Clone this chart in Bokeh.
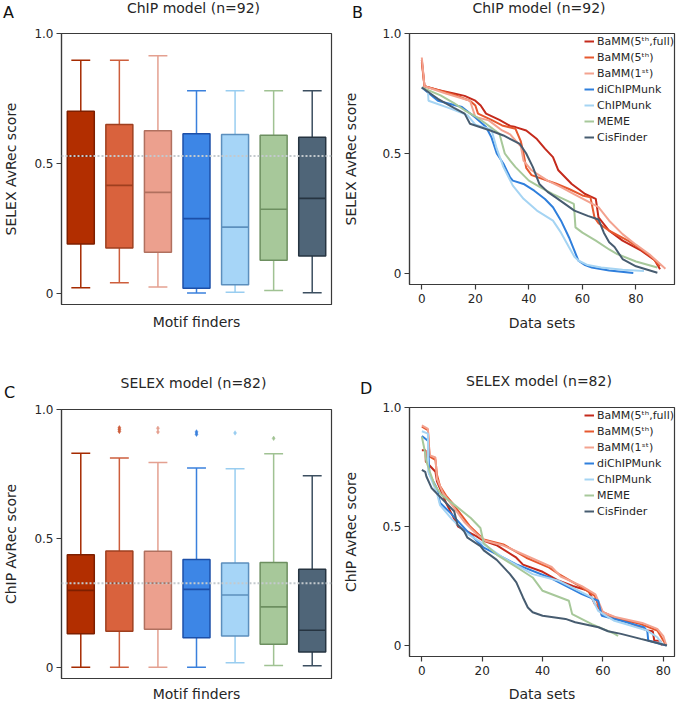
from bokeh.plotting import figure
from bokeh.models import (Range1d, FactorRange, FixedTicker, Span, Div, LinearAxis,
                          Legend, LegendItem, ColumnDataSource)
from bokeh.layouts import column, row
from bokeh.transform import dodge
from bokeh.embed import file_html
from bokeh.resources import INLINE

FONT = "DejaVu Sans"
TXT = "#262626"
FRAME = "#3a3a3a"

# ---------------- data ----------------
methods = ["BaMM(5th,full)", "BaMM(5th)", "BaMM(1st)", "diChIPMunk",
           "ChIPMunk", "MEME", "CisFinder"]
legend_labels = ["BaMM(5\u1d57\u02b0,full)", "BaMM(5\u1d57\u02b0)", "BaMM(1\u02e2\u1d57)",
                 "diChIPMunk", "ChIPMunk", "MEME", "CisFinder"]

# Panel A: ChIP model (n=92), SELEX AvRec score
a_lo = [0.021, 0.040, 0.023, 0.000, 0.003, 0.010, 0.001]
a_q1 = [0.189, 0.174, 0.157, 0.019, 0.032, 0.126, 0.143]
a_med = [0.528, 0.415, 0.388, 0.287, 0.254, 0.323, 0.365]
a_q3 = [0.700, 0.649, 0.625, 0.614, 0.611, 0.608, 0.600]
a_hi = [0.897, 0.897, 0.914, 0.779, 0.779, 0.779, 0.779]
a_ref = 0.528

# Panel C: SELEX model (n=82), ChIP AvRec score
c_lo = [0.000, 0.000, 0.000, 0.000, 0.017, 0.006, 0.005]
c_q1 = [0.130, 0.139, 0.147, 0.114, 0.121, 0.089, 0.059]
c_med = [0.298, 0.326, 0.326, 0.302, 0.280, 0.234, 0.143]
c_q3 = [0.436, 0.451, 0.450, 0.418, 0.404, 0.406, 0.380]
c_hi = [0.830, 0.812, 0.794, 0.773, 0.770, 0.828, 0.743]
c_ref = 0.326
c_out_method = ["BaMM(5th)", "BaMM(5th)", "BaMM(5th)", "BaMM(1st)", "BaMM(1st)",
                "diChIPMunk", "diChIPMunk", "ChIPMunk", "MEME"]
c_out_value = [0.929, 0.922, 0.915, 0.927, 0.913, 0.913, 0.904, 0.909, 0.888]

# Panel B: ChIP model (n=92), sorted scores per data set
b_x = {
    "BaMM(5th,full)": [0, 1, 6, 12, 16, 20, 22, 24, 29, 33, 35, 39, 43, 46, 49, 51, 56, 61, 65, 66, 70, 75, 82, 87, 89],
    "BaMM(5th)": [0, 1, 6, 12, 18, 20, 21, 26, 30, 35, 37, 38, 39, 41, 45, 50, 55, 60, 63, 64.5, 66, 70, 77, 82, 86, 89],
    "BaMM(1st)": [0, 1, 9, 18, 20, 25, 30, 33, 35, 37, 38, 41, 47, 52, 57, 62, 66, 70, 75, 80, 85, 88, 91],
    "diChIPMunk": [0, 6, 15, 20, 24, 26, 28, 30.5, 33, 34, 38, 42, 46, 49, 52, 55, 57, 58.5, 61, 63.5, 70, 79],
    "ChIPMunk": [0, 2.3, 2.5, 10, 17, 20, 26, 28, 30.5, 34, 38, 43, 49, 52, 55, 57, 58.6, 62, 67, 75, 83],
    "MEME": [0, 7, 12, 16, 20, 24, 29, 31, 33, 35, 40, 45, 49, 53, 56.8, 57.4, 60, 65, 70, 73, 80, 88],
    "CisFinder": [0, 6, 12, 16, 18, 25.6, 30.5, 36.6, 39, 41.5, 43.9, 47, 50, 57, 62, 66, 68, 70, 72, 75, 80, 88],
}
b_y = {
    "BaMM(5th,full)": [0.89, 0.78, 0.765, 0.75, 0.74, 0.72, 0.70, 0.666, 0.64, 0.615, 0.61, 0.596, 0.56, 0.52, 0.485, 0.43, 0.373, 0.331, 0.311, 0.234, 0.178, 0.137, 0.095, 0.055, 0.018],
    "BaMM(5th)": [0.88, 0.78, 0.765, 0.745, 0.72, 0.70, 0.666, 0.64, 0.617, 0.603, 0.55, 0.50, 0.44, 0.41, 0.394, 0.375, 0.352, 0.325, 0.317, 0.234, 0.21, 0.178, 0.137, 0.10, 0.067, 0.03],
    "BaMM(1st)": [0.90, 0.78, 0.75, 0.72, 0.652, 0.638, 0.596, 0.58, 0.554, 0.53, 0.47, 0.43, 0.387, 0.36, 0.33, 0.30, 0.276, 0.22, 0.164, 0.12, 0.08, 0.05, 0.02],
    "diChIPMunk": [0.775, 0.72, 0.694, 0.65, 0.61, 0.568, 0.50, 0.457, 0.40, 0.387, 0.373, 0.345, 0.31, 0.276, 0.22, 0.15, 0.095, 0.053, 0.035, 0.025, 0.012, 0.002],
    "ChIPMunk": [0.775, 0.76, 0.72, 0.69, 0.66, 0.62, 0.60, 0.52, 0.443, 0.366, 0.311, 0.262, 0.22, 0.17, 0.109, 0.07, 0.053, 0.035, 0.025, 0.015, 0.01],
    "MEME": [0.775, 0.742, 0.71, 0.68, 0.655, 0.624, 0.582, 0.50, 0.47, 0.443, 0.387, 0.355, 0.331, 0.31, 0.29, 0.192, 0.17, 0.137, 0.10, 0.081, 0.05, 0.025],
    "CisFinder": [0.775, 0.728, 0.69, 0.666, 0.624, 0.596, 0.575, 0.54, 0.50, 0.443, 0.373, 0.34, 0.317, 0.262, 0.24, 0.225, 0.17, 0.13, 0.11, 0.06, 0.03, 0.003],
}

# Panel D: SELEX model (n=82), sorted scores per data set
d_x = {
    "BaMM(5th,full)": [0, 1.2, 1.3, 4.5, 5, 8, 10, 12, 15, 18, 20.5, 25, 31.3, 33.5, 40, 45.4, 50, 55.2, 57.3, 60, 63.8, 68, 74.7, 76.5, 77, 79, 79.5],
    "BaMM(5th)": [0, 2, 2.6, 4.5, 5, 6, 8, 10, 13, 16, 20.5, 27, 34.6, 42.2, 45.4, 53, 57.3, 59.5, 63.8, 72.5, 78, 79.6, 81],
    "BaMM(1st)": [0, 2, 2.5, 4.5, 5, 7, 10, 14, 18, 21, 27, 35, 43, 46, 53, 57.5, 60, 64, 73, 78, 80, 81],
    "diChIPMunk": [0, 2, 2.5, 5, 6, 10, 15, 20.5, 31.3, 42.2, 53, 58.4, 59.6, 66, 73.6, 74.7, 75, 81],
    "ChIPMunk": [0, 2, 2.1, 5, 6, 10, 15, 20, 27, 36.7, 45.4, 56.3, 58.4, 63.8, 74.7, 78, 79.6],
    "MEME": [0, 1, 1.5, 2.6, 4.2, 6.4, 10.7, 16.2, 19.4, 20.5, 25, 31.3, 36.7, 40, 48.7, 49.8, 56.3, 63.9, 65],
    "CisFinder": [0, 1.1, 1.5, 3.2, 5.3, 7.5, 10.7, 11.8, 14, 15.1, 19.4, 20.5, 24.8, 29.2, 31.3, 33.5, 35.1, 36.7, 40, 47.6, 50.8, 58.5, 61.7, 66, 72.5, 74.7, 81.2],
}
d_y = {
    "BaMM(5th,full)": [0.82, 0.82, 0.773, 0.73, 0.69, 0.60, 0.55, 0.50, 0.48, 0.46, 0.44, 0.42, 0.369, 0.34, 0.31, 0.272, 0.25, 0.23, 0.174, 0.14, 0.118, 0.10, 0.063, 0.06, 0.021, 0.02, 0.0],
    "BaMM(5th)": [0.92, 0.905, 0.794, 0.78, 0.717, 0.67, 0.63, 0.60, 0.55, 0.50, 0.446, 0.425, 0.369, 0.327, 0.30, 0.244, 0.209, 0.132, 0.118, 0.09, 0.063, 0.03, 0.0],
    "BaMM(1st)": [0.925, 0.91, 0.80, 0.79, 0.70, 0.64, 0.59, 0.52, 0.47, 0.44, 0.42, 0.375, 0.33, 0.29, 0.25, 0.215, 0.14, 0.12, 0.095, 0.07, 0.04, 0.0],
    "diChIPMunk": [0.88, 0.86, 0.72, 0.66, 0.60, 0.55, 0.48, 0.411, 0.341, 0.286, 0.216, 0.188, 0.125, 0.104, 0.077, 0.06, 0.021, 0.0],
    "ChIPMunk": [0.90, 0.89, 0.731, 0.64, 0.59, 0.53, 0.47, 0.43, 0.369, 0.30, 0.272, 0.202, 0.146, 0.104, 0.063, 0.035, 0.007],
    "MEME": [0.877, 0.815, 0.773, 0.731, 0.675, 0.634, 0.592, 0.536, 0.494, 0.43, 0.38, 0.33, 0.286, 0.23, 0.188, 0.132, 0.09, 0.049, 0.04],
    "CisFinder": [0.738, 0.73, 0.71, 0.662, 0.634, 0.606, 0.564, 0.508, 0.48, 0.453, 0.418, 0.40, 0.36, 0.30, 0.265, 0.202, 0.16, 0.14, 0.125, 0.112, 0.098, 0.077, 0.06, 0.049, 0.028, 0.021, 0.0],
}

ytick_values = [0, 0.5, 1.0]
ytick_labels = ["0", "0.5", "1.0"]
xtick_values = [0, 20, 40, 60, 80]

# ---------------- styles ----------------
box_fill = ["#b22e00", "#d9623d", "#eca08e", "#3d86e6", "#a6d5f7", "#a7c89a", "#4f6578"]
box_edge = ["#7d1f00", "#9e3f1f", "#b0705f", "#1c4fa8", "#5c8fbd", "#6d8f60", "#263441"]
whisker_col = ["#a52a00", "#cd5e3c", "#e4a090", "#3a80dc", "#99cdf0", "#a0c293", "#3c4f60"]
line_col = ["#c42a1c", "#e6582f", "#f3a28f", "#2f7fdc", "#a5d4f3", "#a7c89a", "#475c70"]
col_of = dict(zip(methods, whisker_col))


def style_axes(p):
    try:
        p.frame_align = False
    except Exception:
        pass
    p.outline_line_color = FRAME
    p.outline_line_width = 1.2
    p.outline_line_alpha = 1.0
    p.xgrid.visible = False
    p.ygrid.visible = False
    for ax in p.axis:
        ax.axis_line_color = FRAME
        ax.axis_line_width = 1.2
        ax.major_tick_line_color = FRAME
        ax.major_tick_line_width = 1.2
        ax.major_tick_out = 5
        ax.major_tick_in = 0
        ax.minor_tick_line_color = None
        ax.major_label_text_font = FONT
        ax.major_label_text_font_size = "12px"
        ax.major_label_text_color = TXT
        ax.axis_label_text_font = FONT
        ax.axis_label_text_font_size = "14px"
        ax.axis_label_text_font_style = "normal"
        ax.axis_label_text_color = TXT
    p.yaxis.ticker = FixedTicker(ticks=ytick_values)
    p.yaxis.major_label_overrides = dict(zip(ytick_values, ytick_labels))
    p.yaxis.major_label_standoff = 3


def header(W, H, letter, lx, ly, title, tx, tw, ty):
    html = (
        f'<div style="position:relative;width:{W}px;height:{H}px;'
        f'font-family:\'DejaVu Sans\';color:{TXT};">'
        f'<span style="position:absolute;left:{lx}px;top:{ly}px;font-size:16px;'
        f'line-height:16px;color:#111111;">{letter}</span>'
        f'<span style="position:absolute;left:{tx}px;top:{ty}px;width:{tw}px;'
        f'text-align:center;font-size:14px;line-height:14px;white-space:nowrap;">{title}</span>'
        '</div>'
    )
    return Div(text=html, width=W, height=H, margin=(0, 0, 0, 0))


def box_panel(lo, q1, med, q3, hi, ref, out_m, out_v, ylabel, height, fh, xlab_standoff):
    W, left, right, top = 340, 56, 9, 8
    p = figure(width=W, height=height, x_range=FactorRange(factors=methods),
               y_range=Range1d(-0.044, 1.0), output_backend="svg",
               toolbar_location=None, x_axis_type=None,
               min_border_left=left, min_border_right=right,
               min_border_top=top, min_border_bottom=height - top - fh,
               background_fill_color="white", border_fill_color="white")
    xax = LinearAxis(ticker=FixedTicker(ticks=[]), axis_label="Motif finders")
    p.add_layout(xax, "below")
    style_axes(p)
    p.yaxis.axis_label = ylabel
    p.yaxis.axis_label_standoff = 12
    xax.major_tick_out = 0
    xax.major_label_standoff = 0
    xax.axis_label_standoff = xlab_standoff

    src = ColumnDataSource(dict(x=methods, lo=lo, q1=q1, med=med, q3=q3, hi=hi,
                                fill=box_fill, edge=box_edge, wh=whisker_col))
    p.segment(x0="x", y0="q3", x1="x", y1="hi", line_color="wh", line_width=1.5, source=src)
    p.segment(x0="x", y0="lo", x1="x", y1="q1", line_color="wh", line_width=1.5, source=src)
    for col in ("hi", "lo"):
        p.segment(x0=dodge("x", -0.245, range=p.x_range), y0=col,
                  x1=dodge("x", 0.245, range=p.x_range), y1=col,
                  line_color="wh", line_width=1.5, source=src)
    p.vbar(x="x", width=0.7, top="q3", bottom="q1", fill_color="fill",
           line_color="edge", line_width=1.5, source=src)
    p.segment(x0=dodge("x", -0.35, range=p.x_range), y0="med",
              x1=dodge("x", 0.35, range=p.x_range), y1="med",
              line_color="edge", line_width=1.6, source=src)
    if out_m:
        p.scatter(x=out_m, y=out_v, marker="diamond", size=4.5,
                  fill_color=[col_of[m] for m in out_m],
                  line_color=[col_of[m] for m in out_m], line_width=0.5)
    p.add_layout(Span(location=ref, dimension="width", line_color="#c3c9cd",
                      line_width=2, line_dash="2 2"))
    return p


def line_panel(xs, ys, xr, ylabel, height, fh, xlab_standoff):
    W, left, right, top = 338, 64, 4, 8
    p = figure(width=W, height=height, x_range=Range1d(*xr),
               y_range=Range1d(-0.046, 1.0), output_backend="svg",
               toolbar_location=None, min_border_left=left, min_border_right=right,
               min_border_top=top, min_border_bottom=height - top - fh,
               background_fill_color="white", border_fill_color="white")
    style_axes(p)
    p.yaxis.axis_label = ylabel
    p.yaxis.axis_label_standoff = 20
    p.xaxis.axis_label = "Data sets"
    p.xaxis.ticker = FixedTicker(ticks=xtick_values)
    p.xaxis.major_label_standoff = 4
    p.xaxis.axis_label_standoff = xlab_standoff
    items = []
    for m, lab, c in zip(methods, legend_labels, line_col):
        r = p.line(xs[m], ys[m], line_color=c, line_width=2)
        items.append(LegendItem(label=lab, renderers=[r]))
    leg = Legend(items=items, location="top_right", border_line_color=None,
                 background_fill_alpha=0, label_text_font=FONT,
                 label_text_font_size="11px", label_text_color=TXT,
                 glyph_width=10, glyph_height=16, label_height=16, spacing=0,
                 padding=4, margin=0, label_standoff=3)
    p.add_layout(leg)
    return p


# row 1: header 25 px + figure 315 px ; row 2: header + figure = 364 px
pa = box_panel(a_lo, a_q1, a_med, a_q3, a_hi, a_ref, [], [], "SELEX AvRec score", 315, 271, 9)
pb = line_panel(b_x, b_y, (-4.6, 94.4), "SELEX AvRec score", 315, 251, 9)
pc = box_panel(c_lo, c_q1, c_med, c_q3, c_hi, c_ref, c_out_method, c_out_value,
               "ChIP AvRec score", 303, 271, 7)
pd = line_panel(d_x, d_y, (-4.1, 83.7), "ChIP AvRec score", 305, 250, 8)

ha = header(340, 25, "A", 3, 5, "ChIP model (n=92)", 56, 275, 1)
hb = header(338, 25, "B", 12, 5, "ChIP model (n=92)", 64, 270, 1)
hc = header(340, 61, "C", 4, 45, "SELEX model (n=82)", 56, 275, 36)
hd = header(338, 59, "D", 20, 41, "SELEX model (n=82)", 64, 270, 34)

layout = column(row(column(ha, pa), column(hb, pb)),
                row(column(hc, pc), column(hd, pd)))
open("out.html", "w").write(file_html(layout, INLINE))
